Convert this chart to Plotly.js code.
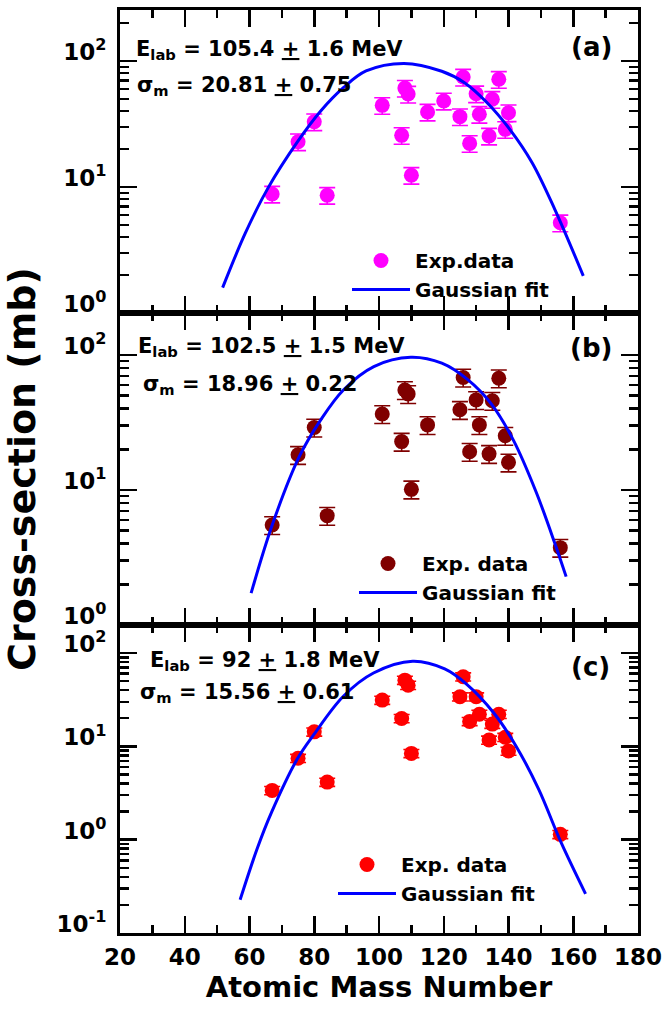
<!DOCTYPE html>
<html>
<head>
<meta charset="utf-8">
<script src="https://cdn.plot.ly/plotly-3.0.1.min.js"></script>
<style>html,body{margin:0;padding:0;background:#fff;}</style>
</head>
<body>
<div id="chart" style="width:668px;height:1011px;"></div>
<script>
// Fragment mass numbers and cross-sections (mb) at three beam energies
const massA = [67, 75, 80, 84, 101, 107, 108, 109, 110, 115, 120, 125, 126, 128, 130, 131, 134, 135, 137, 139, 140, 156];
const xsecA = [8.8, 22.9, 33, 8.6, 44.5, 25.7, 61, 54.7, 12.4, 39.4, 48.2, 36.2, 74.6, 22.2, 55, 37.8, 25.4, 49.7, 71.6, 28.7, 38.9, 5.2];

const massB = [67, 75, 80, 84, 101, 107, 108, 109, 110, 115, 125, 126, 128, 130, 131, 134, 135, 137, 139, 140, 156];
const xsecB = [5.5, 18.2, 29, 6.45, 36.5, 22.8, 55, 51.4, 10.1, 30.3, 39.2, 68, 19.2, 46.4, 30.3, 18.5, 45.8, 67.2, 25.2, 16, 3.74];

const massC = [67, 75, 80, 84, 101, 107, 108, 109, 110, 125, 126, 128, 130, 131, 134, 135, 137, 139, 140, 156];
const xsecC = [3.37, 7.45, 14.3, 4.14, 31.3, 19.9, 51.2, 45.2, 8.4, 34, 55.6, 18.5, 34, 22.1, 11.7, 17.3, 22.1, 12.5, 8.9, 1.14];

// relative uncertainty of the measured points (%)
const errPctA = 15;
const errPctB = 15;
const errPctC = 10;

// Gaussian fit curves
const fitAx = [51.7, 58.7, 65.7, 74.8, 82.0, 89.0, 96.0, 107.7, 119.4, 126.4, 133.4, 140.4, 147.3, 154.3, 163.1];
const fitAy = [1.59, 4.3, 9.8, 22.8, 40.1, 61.4, 83.4, 95.8, 83, 67.3, 46.7, 28.7, 15.6, 6.65, 1.97];

const fitBx = [60.5, 67.2, 75.4, 82.0, 89.0, 98.4, 109.8, 119.4, 127.5, 134.5, 141.5, 148.5, 154.3, 157.8];
const fitBy = [1.72, 5.66, 17.7, 33, 55, 82, 96, 86.8, 65.3, 43.9, 23.4, 9.7, 4.03, 2.28];

const fitCx = [57.1, 62.3, 66.8, 74.7, 79.9, 89.0, 98.3, 110.4, 120.3, 127.2, 135.4, 142.3, 149.3, 156.2, 163.8];
const fitCy = [0.227, 0.79, 1.96, 7.26, 13.4, 34.4, 61, 81.5, 67.5, 45.9, 22.9, 10.1, 3.48, 0.94, 0.263];

// Panel captions
const energyText = ['E<sub>lab</sub> = 105.4 <u>+</u> 1.6 MeV', 'E<sub>lab</sub> = 102.5 <u>+</u> 1.5 MeV', 'E<sub>lab</sub> = 92 <u>+</u> 1.8 MeV'];
const widthText = ['\u03c3<sub>m</sub> = 20.81 <u>+</u> 0.75', '\u03c3<sub>m</sub> = 18.96 <u>+</u> 0.22', '\u03c3<sub>m</sub> = 15.56 <u>+</u> 0.61'];
const panelTags = ['(a)', '(b)', '(c)'];
const dataNames = ['Exp.data', 'Exp. data', 'Exp. data'];
const fitName = 'Gaussian fit';

// Axis labels
const yTickVals = [0.1, 1, 10, 100];
const yTickText = ['10<sup>-1</sup>', '10<sup>0</sup>', '10<sup>1</sup>', '10<sup>2</sup>'];
const xTitle = 'Atomic Mass Number';
const yTitle = 'Cross-section (mb)';

const FONT = 'DejaVu Sans, Liberation Sans, Arial, sans-serif';
const colors = ['#ff00ff', '#800000', '#ff0000'];
const fitColor = '#0000ff';

const minorLog = [];
for (let e = -2; e <= 3; e++) {
  for (let m = 2; m <= 9; m++) minorLog.push(m * Math.pow(10, e));
}

function dataTrace(x, y, pct, color, name, xa, ya, leg) {
  return {
    type: 'scatter', mode: 'markers', x: x, y: y, name: name,
    xaxis: xa, yaxis: ya, legend: leg,
    marker: {color: color, size: 15},
    error_y: {type: 'percent', value: pct, color: color, thickness: 1.6, width: 8}
  };
}
function fitTrace(x, y, xa, ya, leg) {
  return {
    type: 'scatter', mode: 'lines', x: x, y: y, name: fitName,
    xaxis: xa, yaxis: ya, legend: leg,
    line: {color: fitColor, width: 3, shape: 'spline', smoothing: 1}
  };
}

const traces = [
  dataTrace(massA, xsecA, errPctA, colors[0], dataNames[0], 'x', 'y', 'legend'),
  fitTrace(fitAx, fitAy, 'x', 'y', 'legend'),
  dataTrace(massB, xsecB, errPctB, colors[1], dataNames[1], 'x2', 'y2', 'legend2'),
  fitTrace(fitBx, fitBy, 'x2', 'y2', 'legend2'),
  dataTrace(massC, xsecC, errPctC, colors[2], dataNames[2], 'x3', 'y3', 'legend3'),
  fitTrace(fitCx, fitCy, 'x3', 'y3', 'legend3')
];

function xAxis(anchor, labels) {
  const ax = {
    anchor: anchor, range: [20, 180], tickmode: 'linear', tick0: 20, dtick: 20,
    ticks: 'inside', ticklen: 17, tickwidth: 2.5, tickcolor: '#000',
    showline: true, linewidth: 3, linecolor: '#000', mirror: 'allticks',
    showgrid: false, zeroline: false, showticklabels: labels,
    tickfont: {family: FONT, size: 23, color: '#000', weight: 'bold'},
    ticklabelstandoff: 1,
    minor: {tickmode: 'linear', tick0: 20, dtick: 10, ticks: 'inside', ticklen: 8, tickwidth: 2.5, tickcolor: '#000'}
  };
  if (!labels) ax.matches = 'x3';
  return ax;
}
function yAxis(anchor, domain, range, title) {
  const ax = {
    anchor: anchor, domain: domain, type: 'log', range: range,
    tickmode: 'array', tickvals: yTickVals, ticktext: yTickText,
    ticks: 'inside', ticklen: 17, tickwidth: 2.5, tickcolor: '#000',
    showline: true, linewidth: 3, linecolor: '#000', mirror: 'allticks',
    showgrid: false, zeroline: false,
    tickfont: {family: FONT, size: 23, color: '#000', weight: 'bold'},
    ticklabelstandoff: 6, ticklabelshift: -9,
    minor: {tickmode: 'array', tickvals: minorLog, ticks: 'inside', ticklen: 9, tickwidth: 2.5, tickcolor: '#000'}
  };
  if (title) ax.title = {text: title, font: {family: FONT, size: 38, color: '#000', weight: 'bold'}, standoff: 20};
  return ax;
}

const legendBase = {
  font: {family: FONT, size: 20, color: '#000', weight: 'bold'},
  bgcolor: 'rgba(0,0,0,0)', borderwidth: 0, itemwidth: 58,
  xanchor: 'left', yanchor: 'top', traceorder: 'normal', tracegroupgap: 0
};

// paper-coordinate helpers for the 518 x 923 plotting area
const px = v => (v - 120) / 518;
const py = v => (933 - v) / 923;

function caption(text, x, y, anchor, size) {
  return {text: text, xref: 'paper', yref: 'paper', x: px(x), y: py(y),
    xanchor: anchor, yanchor: 'middle', showarrow: false,
    font: {family: FONT, size: size, color: '#000', weight: 'bold'}};
}

const annotations = [
  caption(energyText[0], 134, 50, 'left', 21),
  caption(widthText[0], 135, 86, 'left', 21),
  caption(panelTags[0], 614, 47, 'right', 26),
  caption(energyText[1], 136, 347, 'left', 21),
  caption(widthText[1], 141, 385, 'left', 21),
  caption(panelTags[1], 614, 348, 'right', 26),
  caption(energyText[2], 148, 661, 'left', 21),
  caption(widthText[2], 138, 693, 'left', 21),
  caption(panelTags[2], 612, 667, 'right', 26)
];

const layout = {
  width: 668, height: 1011,
  margin: {l: 120, r: 30, t: 10, b: 78},
  paper_bgcolor: '#fff', plot_bgcolor: '#fff',
  showlegend: true,
  xaxis: xAxis('y', false),
  xaxis2: xAxis('y2', false),
  xaxis3: Object.assign(xAxis('y3', true), {
    title: {text: xTitle, font: {family: FONT, size: 29, color: '#000', weight: 'bold'}, standoff: 4}
  }),
  yaxis: yAxis('x', [0.6717, 1], [0, 2.405], null),
  yaxis2: yAxis('x2', [0.3337, 0.6717], [0, 2.31], yTitle),
  yaxis3: yAxis('x3', [0, 0.3337], [-1, 2.30], null),
  legend: Object.assign({}, legendBase, {x: px(347), y: py(241)}),
  legend2: Object.assign({}, legendBase, {x: px(354), y: py(544)}),
  legend3: Object.assign({}, legendBase, {x: px(333), y: py(845)}),
  annotations: annotations
};

Plotly.newPlot('chart', traces, layout, {displayModeBar: false, staticPlot: true});
</script>
</body>
</html>
